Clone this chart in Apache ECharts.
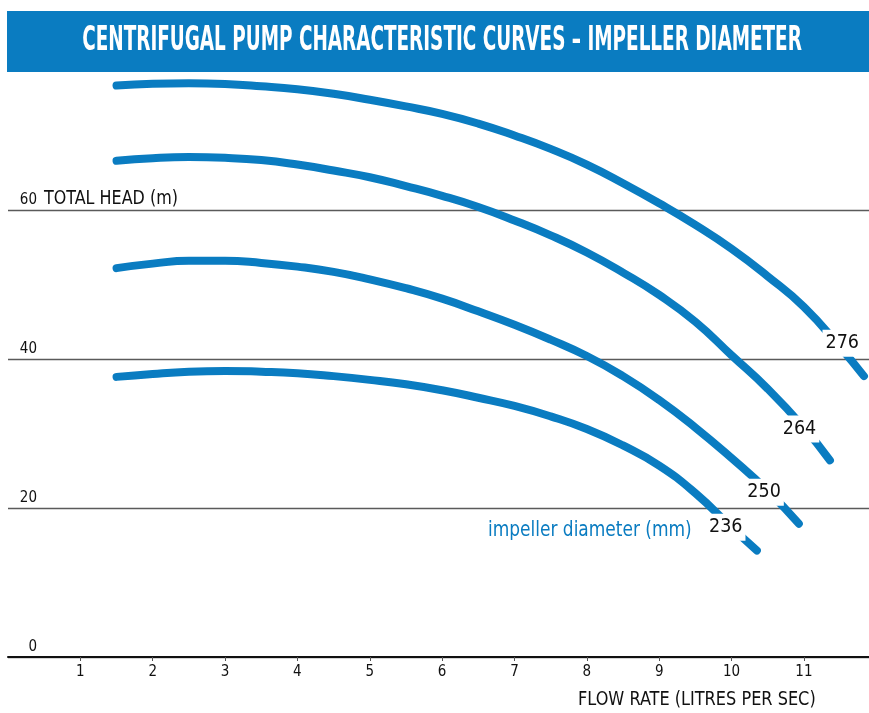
<!DOCTYPE html>
<html>
<head>
<meta charset="utf-8">
<script src="https://cdn.jsdelivr.net/npm/echarts@6/dist/echarts.min.js"></script>
<style>
html,body{margin:0;padding:0;background:#fff;}
#chart{width:869px;height:713px;}
</style>
</head>
<body>
<div id="chart"></div>
<script>
// ---- data ----
const chartTitle = 'CENTRIFUGAL PUMP CHARACTERISTIC CURVES \u2013 IMPELLER DIAMETER';
const yAxisTitle = 'TOTAL HEAD (m)';
const xAxisTitle = 'FLOW RATE (LITRES PER SEC)';
const legendNote = 'impeller diameter (mm)';

const xTickValues = [1, 2, 3, 4, 5, 6, 7, 8, 9, 10, 11];
const yTickValues = [0, 20, 40, 60];

const flow276 = [1.5, 2, 2.5, 3, 3.5, 4, 4.5, 5, 5.5, 6, 6.5, 7, 7.5, 8, 8.5, 9, 9.5, 10, 10.5, 11, 11.5, 11.83];
const head276 = [76.7, 76.95, 77.0, 76.9, 76.6, 76.2, 75.6, 74.8, 73.9, 72.9, 71.6, 70.0, 68.2, 66.1, 63.6, 60.9, 58.0, 54.8, 51.1, 47.0, 41.6, 37.7];

const flow264 = [1.5, 2, 2.5, 3, 3.5, 4, 4.5, 5, 5.5, 6, 6.5, 7, 7.5, 8, 8.5, 9, 9.5, 10, 10.5, 11, 11.36];
const head264 = [66.6, 66.95, 67.1, 67.0, 66.7, 66.1, 65.3, 64.4, 63.2, 61.9, 60.4, 58.6, 56.6, 54.3, 51.6, 48.6, 45.0, 40.5, 36.0, 30.8, 26.4];

const flow250 = [1.5, 2, 2.5, 3, 3.5, 4, 4.5, 5, 5.5, 6, 6.5, 7, 7.5, 8, 8.5, 9, 9.5, 10, 10.5, 10.93];
const head250 = [52.2, 52.8, 53.2, 53.2, 52.9, 52.4, 51.7, 50.7, 49.5, 48.1, 46.4, 44.6, 42.6, 40.4, 37.7, 34.5, 30.8, 26.7, 22.3, 17.9];

const flow236 = [1.5, 2, 2.5, 3, 3.5, 4, 4.5, 5, 5.5, 6, 6.5, 7, 7.5, 8, 8.5, 9, 9.5, 10, 10.35];
const head236 = [37.6, 38.0, 38.3, 38.4, 38.3, 38.1, 37.7, 37.2, 36.6, 35.8, 34.8, 33.7, 32.3, 30.6, 28.4, 25.7, 22.0, 17.4, 14.3];

const diameters = ['276', '264', '250', '236'];
const labelFlow = [11.53, 10.94, 10.45, 9.92];
const labelHead = [42.1, 30.6, 22.1, 17.4];

// ---- build ----
const BLUE = '#0a7cc1';
const COND = '"DejaVu Sans Condensed", "Liberation Sans", sans-serif';
const zip = (xs, ys) => xs.map((x, i) => [x, ys[i]]);
const curves = [zip(flow276, head276), zip(flow264, head264), zip(flow250, head250), zip(flow236, head236)];

const chart = echarts.init(document.getElementById('chart'), null, {renderer: 'canvas'});

const series = curves.map((d, i) => ({
  type: 'line',
  name: diameters[i],
  data: d,
  smooth: 0.5,
  showSymbol: false,
  symbol: 'none',
  clip: false,
  lineStyle: {color: BLUE, width: 8, cap: 'round', join: 'round'},
  z: 2,
  silent: true
}));

series.push({
  type: 'scatter',
  symbolSize: 0,
  z: 5,
  silent: true,
  itemStyle: {opacity: 1},
  data: diameters.map((d, i) => [labelFlow[i], labelHead[i], d]),
  label: {
    show: true,
    position: 'inside',
    formatter: p => p.value[2],
    color: '#111',
    fontFamily: COND,
    fontSize: 19.5,
    opacity: 1,
    backgroundColor: '#ffffff',
    padding: [4, 3, 3, 3]
  },
  emphasis: {disabled: true}
});

const option = {
  backgroundColor: '#ffffff',
  animation: false,
  grid: {left: 8, right: 0, top: 61, bottom: 56, containLabel: false},
  xAxis: {
    type: 'value',
    min: 0,
    max: 11.9,
    interval: 1,
    axisLine: {show: true, lineStyle: {color: '#111', width: 2}},
    axisTick: {show: true, customValues: xTickValues, length: 4, lineStyle: {color: '#555', width: 1}},
    axisLabel: {customValues: xTickValues, color: '#111', fontFamily: COND, fontSize: 15, margin: 8},
    splitLine: {show: false}
  },
  yAxis: {
    type: 'value',
    min: 0,
    max: 80,
    interval: 20,
    axisLine: {show: false},
    axisTick: {show: false},
    axisLabel: {
      customValues: yTickValues,
      inside: true,
      align: 'right',
      verticalAlign: 'bottom',
      margin: 29,
      padding: [0, 0, 2, 0],
      color: '#111',
      fontFamily: COND,
      fontSize: 15
    },
    splitLine: {show: true, lineStyle: {color: '#5a5a5a', width: 1.3}}
  },
  graphic: [
    {type: 'rect', z: 100, shape: {x: 7, y: 11, width: 862, height: 61}, style: {fill: BLUE}},
    {type: 'text', z: 101, x: 442, y: 41, scaleX: 0.62, style: {
      text: chartTitle, fill: '#ffffff', font: 'bold 33px ' + COND, textAlign: 'center', textVerticalAlign: 'middle'}},
    {type: 'text', z: 101, x: 44, y: 199, scaleX: 0.887, style: {
      text: yAxisTitle, fill: '#111', font: '20px ' + COND, textAlign: 'left', textVerticalAlign: 'middle'}},
    {type: 'text', z: 101, x: 578, y: 700, scaleX: 0.92, style: {
      text: xAxisTitle, fill: '#111', font: '19.5px ' + COND, textAlign: 'left', textVerticalAlign: 'middle'}},
    {type: 'text', z: 101, x: 488, y: 531, scaleX: 0.9, style: {
      text: legendNote, fill: BLUE, font: '21px ' + COND, textAlign: 'left', textVerticalAlign: 'middle'}}
  ],
  series: series
};
chart.setOption(option);
</script>
</body>
</html>
